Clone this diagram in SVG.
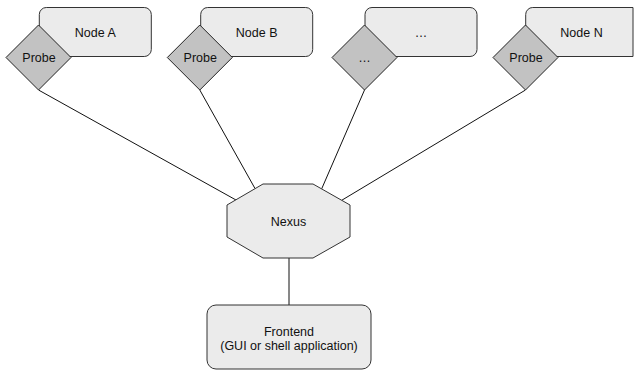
<svg xmlns="http://www.w3.org/2000/svg" width="634" height="370" viewBox="0 0 634 370">
<style>
.box{fill:#ebebeb;stroke:#333;stroke-width:1}
.probe{fill:#c2c2c2;stroke:#222;stroke-width:1}
.edge{stroke:#111;stroke-width:1;fill:none}
text{font-family:"Liberation Sans",Arial,Helvetica,sans-serif;font-size:12.5px;fill:#111;text-anchor:middle}
</style>
<rect width="634" height="370" fill="#fff"/>
<g id="connectors">
<line class="edge" x1="38.5" y1="90" x2="236" y2="200"/>
<line class="edge" x1="199.8" y1="90" x2="255" y2="188.5"/>
<line class="edge" x1="364.5" y1="90" x2="321.7" y2="188.8"/>
<line class="edge" x1="525.5" y1="90" x2="341.7" y2="200.3"/>
<line class="edge" x1="289" y1="258" x2="289" y2="305"/>
</g>
<g id="nodeA">
<rect class="box" x="39.3" y="7.5" width="112" height="49" rx="7"/>
<text x="95.3" y="36.5">Node A</text>
</g>
<g id="probeA">
<polygon class="probe" points="38.5,25 71,57.5 38.5,90 6,57.5"/>
<text x="39" y="62">Probe</text>
</g>
<g id="nodeB">
<rect class="box" x="200.7" y="7.5" width="112" height="49" rx="7"/>
<text x="256.7" y="36.5">Node B</text>
</g>
<g id="probeB">
<polygon class="probe" points="199.8,25 232.3,57.5 199.8,90 167.3,57.5"/>
<text x="200.3" y="62">Probe</text>
</g>
<g id="nodeDots">
<rect class="box" x="365" y="7.5" width="112" height="49" rx="7"/>
<text x="421" y="36.5">…</text>
</g>
<g id="probeDots">
<polygon class="probe" points="364.5,25 397,57.5 364.5,90 332,57.5"/>
<text x="364.5" y="62">…</text>
</g>
<g id="nodeN">
<path class="box" d="M525.7,14.5 A7,7 0 0 1 532.7,7.5 H633 V56.5 H525.7 Z"/>
<text x="581.5" y="36.5">Node N</text>
</g>
<g id="probeN">
<polygon class="probe" points="525.5,25 558,57.5 525.5,90 493,57.5"/>
<text x="526" y="62">Probe</text>
</g>
<g id="nexus">
<polygon class="box" points="263,184 313,184 350,205 350,237 313,258 263,258 227,237 227,205"/>
<text x="288.5" y="225.5">Nexus</text>
</g>
<g id="frontend">
<rect class="box" x="207" y="305" width="164" height="64" rx="9"/>
<text x="289" y="336">Frontend</text>
<text x="289" y="350">(GUI or shell application)</text>
</g>
</svg>
